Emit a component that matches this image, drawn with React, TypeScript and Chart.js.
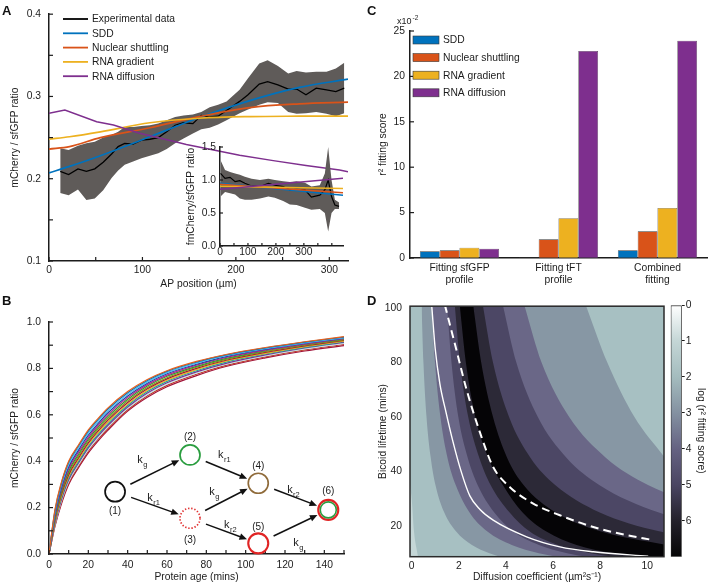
import React, { useEffect, useRef } from 'react';
import { Chart, registerables } from 'chart.js';

Chart.register(...registerables);

const FONT = "'Liberation Sans', Arial, Helvetica, sans-serif";
Chart.defaults.font.family = FONT;
Chart.defaults.font.size = 10.3;
Chart.defaults.color = '#1c1c1c';

const INK = '#1c1c1c';
const BLUE = '#0072bd';
const ORANGE = '#d95319';
const YELLOW = '#edb120';
const PURPLE = '#7e2f8e';
const BAND = '#5f5b59';

// ---------------- Panel A : AP profile ----------------
const aSeriesNames = ['Experimental data', 'SDD', 'Nuclear shuttling', 'RNA gradient', 'RNA diffusion'];
const aSeriesColors = ['#000000', BLUE, ORANGE, YELLOW, PURPLE];
const apPosition = [12, 21, 31, 40, 49, 58, 67, 74, 81, 90, 99, 108, 117, 126, 135, 144, 154, 163, 172, 181, 190, 204, 213, 225, 234, 245, 256, 265, 275, 286, 297, 307, 316];
const expMean = [0.209, 0.205, 0.212, 0.209, 0.212, 0.220, 0.230, 0.239, 0.243, 0.242, 0.247, 0.248, 0.250, 0.257, 0.265, 0.268, 0.267, 0.277, 0.275, 0.276, 0.283, 0.294, 0.302, 0.315, 0.318, 0.314, 0.309, 0.309, 0.302, 0.310, 0.308, 0.306, 0.310];
const expUpper = [0.237, 0.235, 0.240, 0.243, 0.245, 0.250, 0.253, 0.257, 0.263, 0.263, 0.264, 0.265, 0.267, 0.271, 0.275, 0.277, 0.278, 0.281, 0.287, 0.290, 0.294, 0.308, 0.322, 0.340, 0.344, 0.337, 0.328, 0.331, 0.329, 0.330, 0.330, 0.334, 0.341];
const expLower = [0.1825, 0.180, 0.187, 0.174, 0.176, 0.186, 0.201, 0.210, 0.217, 0.221, 0.225, 0.228, 0.231, 0.236, 0.243, 0.249, 0.255, 0.260, 0.262, 0.266, 0.271, 0.2795, 0.284, 0.290, 0.293, 0.292, 0.281, 0.279, 0.2795, 0.281, 0.279, 0.276, 0.2795];
const fitPosition = [0, 22, 55, 108, 161, 215, 268, 320];
const sddFit = [0.207, 0.215, 0.228, 0.251, 0.2745, 0.295, 0.311, 0.321];
const nuclearFit = [0.236, 0.239, 0.250, 0.262, 0.2755, 0.2865, 0.291, 0.293];
const rnaGradFit = [0.248, 0.251, 0.257, 0.268, 0.2735, 0.2755, 0.276, 0.2762];
const rnaDiffPosition = [0, 17, 51, 69, 97, 133, 147, 204, 240, 275, 311, 320];
const rnaDiffFit = [0.2795, 0.2835, 0.2693, 0.2653, 0.2553, 0.2455, 0.2415, 0.2285, 0.222, 0.216, 0.2105, 0.2086];
const aXTicks = [0, 50, 100, 150, 200, 250, 300];
const aYTicks = [0.1, 0.15, 0.2, 0.25, 0.3, 0.35, 0.4];

// inset of panel A
const insetPosition = [2, 18, 36, 54, 71, 89, 113, 143, 173, 196, 226, 250, 274, 304, 327, 357, 375, 387, 399, 411, 426];
const insetMean = [1.10, 1.025, 1.04, 0.975, 0.99, 0.95, 0.91, 0.90, 0.95, 0.92, 0.90, 0.85, 0.86, 0.85, 0.74, 0.77, 0.85, 1.0, 0.75, 0.62, 0.60];
const insetUpper = [1.30, 1.15, 1.12, 1.10, 1.08, 1.05, 1.02, 1.00, 1.02, 1.00, 0.98, 0.97, 0.98, 0.96, 0.90, 0.92, 1.10, 1.50, 1.00, 0.70, 0.66];
const insetLower = [0.75, 0.82, 0.80, 0.78, 0.72, 0.70, 0.70, 0.72, 0.75, 0.73, 0.68, 0.63, 0.62, 0.58, 0.55, 0.56, 0.50, 0.22, 0.50, 0.56, 0.56];
const insetFitPosition = [0, 440];
const insetSdd = [0.95, 0.77];
const insetNuclear = [0.935, 0.805];
const insetRnaGrad = [0.905, 0.87];
const insetRnaDiff = [0.86, 1.025];
const insetXTicks = [0, 50, 100, 150, 200, 250, 300, 350, 400];
const insetYTicks = [0, 0.5, 1.0, 1.5];

// ---------------- Panel B : maturation curves ----------------
const ageMins = [0, 3, 6, 10, 15, 20, 25, 30, 40, 50, 60, 75, 90, 110, 130, 150];
const ratioCurves = [
  [0, 0.19, 0.30, 0.40, 0.47, 0.535, 0.585, 0.63, 0.70, 0.752, 0.790, 0.830, 0.860, 0.890, 0.915, 0.937],
  [0, 0.185, 0.295, 0.395, 0.466, 0.530, 0.580, 0.625, 0.695, 0.748, 0.787, 0.827, 0.858, 0.888, 0.913, 0.935],
  [0, 0.178, 0.287, 0.386, 0.457, 0.521, 0.572, 0.617, 0.688, 0.742, 0.782, 0.823, 0.855, 0.885, 0.910, 0.932],
  [0, 0.170, 0.278, 0.376, 0.448, 0.512, 0.563, 0.609, 0.681, 0.736, 0.777, 0.818, 0.851, 0.882, 0.908, 0.930],
  [0, 0.163, 0.270, 0.367, 0.439, 0.503, 0.555, 0.601, 0.674, 0.730, 0.771, 0.814, 0.847, 0.879, 0.905, 0.928],
  [0, 0.157, 0.262, 0.358, 0.430, 0.495, 0.547, 0.593, 0.667, 0.724, 0.766, 0.809, 0.843, 0.876, 0.903, 0.926],
  [0, 0.151, 0.254, 0.350, 0.422, 0.487, 0.539, 0.585, 0.660, 0.718, 0.760, 0.805, 0.839, 0.872, 0.900, 0.923],
  [0, 0.145, 0.247, 0.342, 0.414, 0.479, 0.531, 0.577, 0.653, 0.712, 0.755, 0.800, 0.835, 0.869, 0.897, 0.921],
  [0, 0.140, 0.240, 0.334, 0.406, 0.471, 0.523, 0.569, 0.646, 0.706, 0.749, 0.795, 0.831, 0.865, 0.894, 0.918],
  [0, 0.135, 0.233, 0.327, 0.399, 0.464, 0.516, 0.562, 0.640, 0.700, 0.744, 0.790, 0.827, 0.862, 0.891, 0.915],
  [0, 0.130, 0.226, 0.320, 0.392, 0.457, 0.509, 0.555, 0.634, 0.694, 0.738, 0.785, 0.822, 0.858, 0.888, 0.912],
  [0, 0.126, 0.220, 0.313, 0.385, 0.450, 0.502, 0.548, 0.628, 0.688, 0.733, 0.780, 0.818, 0.854, 0.884, 0.908],
  [0, 0.122, 0.214, 0.306, 0.378, 0.443, 0.495, 0.541, 0.622, 0.682, 0.727, 0.775, 0.813, 0.850, 0.880, 0.903],
  [0, 0.118, 0.208, 0.300, 0.372, 0.436, 0.488, 0.534, 0.616, 0.676, 0.721, 0.769, 0.808, 0.845, 0.875, 0.898],
];
const curveColors = ['#e8601c', '#0072bd', '#4dbeee', '#2340a0', '#c0208f', '#2ca02c', '#8c8c1a', '#a2142f', '#edb120', '#17a2a2', '#7e2f8e', '#bfe6ea', '#c0392b', '#a0143a'];
const bXTicks = [0, 10, 20, 30, 40, 50, 60, 70, 80, 90, 100, 110, 120, 130, 140, 150];
const bYTicks = [0, 0.1, 0.2, 0.3, 0.4, 0.5, 0.6, 0.7, 0.8, 0.9, 1.0];
// reaction scheme drawn in data units of panel B
const nodeAge = [33.6, 71.7, 71.7, 106.4, 106.4, 142];
const nodeRatio = [0.2685, 0.427, 0.154, 0.305, 0.046, 0.19];
const nodeNames = ['(1)', '(2)', '(3)', '(4)', '(5)', '(6)'];
const reactionFrom = [0, 0, 1, 2, 2, 3, 4];
const reactionTo = [1, 2, 3, 3, 4, 5, 5];
const rateSubscripts = ['g', 'r1', 'r1', 'g', 'r2', 'r2', 'g'];
const rateLabelAge = [46.3, 51.4, 87.3, 82.9, 90.4, 122.5, 125.6];
const rateLabelRatio = [0.405, 0.240, 0.427, 0.2685, 0.125, 0.276, 0.046];

// ---------------- Panel C : fitting scores ----------------
const fitCategories = [['Fitting sfGFP', 'profile'], ['Fitting tFT', 'profile'], ['Combined', 'fitting']];
const cSeriesNames = ['SDD', 'Nuclear shuttling', 'RNA gradient', 'RNA diffusion'];
const cSeriesColors = [BLUE, ORANGE, YELLOW, PURPLE];
const sddScore = [0.74, 0.05, 0.85];
const nuclearScore = [0.85, 2.06, 2.94];
const rnaGradScore = [1.14, 4.38, 5.51];
const rnaDiffScore = [1.03, 22.8, 23.93];
const cYTicks = [0, 5, 10, 15, 20, 25];

// ---------------- Panel D : contour of log fitting score ----------------
const dTau = [101, 80, 60, 45, 35, 25, 18, 13, 10, 7];
const bound12D = [-0.3, 0.0, 0.1, 0.2, 0.35, 12];
const bound12Tau = [45, 30, 18, 12, 7, 4];
const bound23 = [0.42, 0.50, 0.63, 0.81, 1.01, 1.38, 1.88, 2.56, 3.30, 4.67];
const bound34 = [0.84, 0.99, 1.22, 1.52, 1.87, 2.45, 3.20, 4.25, 5.40, 7.60];
const bound45 = [1.50, 1.69, 1.98, 2.38, 2.80, 3.50, 4.30, 5.40, 6.60, 9.00];
const bound56 = [1.83, 2.05, 2.40, 2.87, 3.35, 4.15, 5.00, 6.20, 7.60, 10.5];
const bound67 = [2.04, 2.30, 2.70, 3.25, 3.87, 4.70, 5.70, 7.00, 8.60, 12.0];
const bound76 = [2.61, 2.95, 3.45, 4.05, 4.75, 6.10, 8.00, 10.8];
const bound65 = [3.02, 3.45, 4.13, 5.04, 6.09, 7.96, 10.5, 14.0];
const bound54 = [3.87, 4.44, 5.35, 6.57, 7.96, 10.46, 13.9];
const bound43 = [4.78, 5.51, 6.68, 8.24, 10.03, 13.2];
const bound32 = [7.39, 8.30, 9.45, 10.75];
const levelColors = ['#c5d7d7', '#a7c0c2', '#8797a4', '#6a6787', '#4c4765', '#2c2937', '#050406'];
const whiteSolidD = [0.85, 1.0, 1.2, 1.45, 1.75, 2.1, 2.47, 2.9, 3.46, 4.88, 6.29, 7.71, 10.04];
const whiteSolidTau = [101, 85, 72, 62, 51, 40, 31, 26, 22.1, 16, 12.3, 10.5, 8.9];
const whiteDashD = [1.41, 1.91, 2.33, 2.97, 3.46, 4.17, 5.16, 6.29, 7.71, 9.13, 10.25];
const whiteDashTau = [101, 84.2, 70, 52.5, 41.6, 34.2, 28.2, 23.9, 19.6, 16.6, 14.8];
const dXTicks = [0, 2, 4, 6, 8, 10];
const dYTicks = [20, 40, 60, 80, 100];
const cbTicks = [0, -1, -2, -3, -4, -5, -6];
const cbStops = ['#ffffff', '#c4d6d6', '#a4bcbe', '#8491a1', '#656282', '#4a4562', '#24212b', '#050505'];

// ---------------- helpers ----------------
const xy = (xs: number[], ys: number[]) => ys.map((y, i) => ({ x: xs[i], y }));
const setTicks = (vals: number[]) => (s: any) => { s.ticks = vals.map((v) => ({ value: v })); };
const fixW = (w: number) => (s: any) => { s.width = w; };
const fixH = (h: number) => (s: any) => { s.height = h; };
const isMult = (v: number, m: number) => Math.abs(v / m - Math.round(v / m)) < 1e-6;

const base = (extra: any) => ({
  responsive: false,
  animation: false,
  devicePixelRatio: 1,
  events: [],
  plugins: { legend: { display: false }, tooltip: { enabled: false } },
  ...extra,
});

function inwardTicks(axes: string[], len = 4, width = 1.2) {
  return {
    id: 'inwardTicks',
    afterDatasetsDraw(chart: any) {
      const { ctx, chartArea: a } = chart;
      ctx.save();
      ctx.strokeStyle = INK;
      ctx.lineWidth = width;
      axes.forEach((k) => {
        const s = chart.scales[k];
        s.ticks.forEach((t: any) => {
          const p = s.getPixelForValue(t.value);
          ctx.beginPath();
          if (s.isHorizontal()) {
            ctx.moveTo(p, a.bottom);
            ctx.lineTo(p, a.bottom - len);
          } else {
            ctx.moveTo(a.left, p);
            ctx.lineTo(a.left + len, p);
          }
          ctx.stroke();
        });
      });
      ctx.restore();
    },
  };
}

const line = (data: any, color: string, width: number, order: number, extra: any = {}) => ({
  data,
  borderColor: color,
  backgroundColor: color,
  borderWidth: width,
  pointRadius: 0,
  fill: false,
  order,
  ...extra,
});

const axisBorder = { color: INK, width: 1.5 };
const noGrid = { display: false, drawTicks: false };

// ---------------- chart factories ----------------
const legendA = {
  id: 'legendA',
  afterDraw(chart: any) {
    const ctx = chart.ctx;
    ctx.save();
    ctx.font = `10.3px ${FONT}`;
    ctx.textBaseline = 'middle';
    ctx.textAlign = 'left';
    aSeriesNames.forEach((n, i) => {
      const y = 19 + i * 14.3;
      ctx.strokeStyle = aSeriesColors[i];
      ctx.lineWidth = 1.8;
      ctx.beginPath();
      ctx.moveTo(63, y);
      ctx.lineTo(88, y);
      ctx.stroke();
      ctx.fillStyle = INK;
      ctx.fillText(n, 92, y + 0.5);
    });
    ctx.restore();
  },
};

const makeA = () => ({
  type: 'line',
  data: {
    datasets: [
      line(xy(apPosition, expUpper), 'transparent', 0, 20, { fill: '+1', backgroundColor: BAND }),
      line(xy(apPosition, expLower), 'transparent', 0, 21),
      line(xy(apPosition, expMean), '#000000', 1.3, 5),
      line(xy(fitPosition, sddFit), BLUE, 1.7, 4, { cubicInterpolationMode: 'monotone' }),
      line(xy(fitPosition, nuclearFit), ORANGE, 1.7, 3, { cubicInterpolationMode: 'monotone' }),
      line(xy(fitPosition, rnaGradFit), YELLOW, 1.7, 2, { cubicInterpolationMode: 'monotone' }),
      line(xy(rnaDiffPosition, rnaDiffFit), PURPLE, 1.5, 1),
    ],
  },
  options: base({
    layout: { padding: { left: 0, right: 12, top: 14, bottom: 0 } },
    scales: {
      x: {
        type: 'linear', min: 0, max: 320,
        afterBuildTicks: setTicks(aXTicks), afterFit: fixH(31),
        grid: noGrid, border: axisBorder,
        ticks: { padding: 3, maxRotation: 0, autoSkip: false, callback: (v: number) => (isMult(v, 100) ? String(v) : '') },
        title: { display: true, text: 'AP position (µm)', padding: { top: 0, bottom: 2 } },
      },
      y: {
        type: 'linear', min: 0.1, max: 0.4,
        afterBuildTicks: setTicks(aYTicks), afterFit: fixW(49),
        grid: noGrid, border: axisBorder,
        ticks: { padding: 8, autoSkip: false, callback: (v: number) => (isMult(v, 0.1) ? v.toFixed(1) : '') },
        title: { display: true, text: 'mCherry / sfGFP ratio', padding: { top: 9, bottom: 0 } },
      },
    },
  }),
  plugins: [inwardTicks(['x', 'y']), legendA],
});

const makeInset = () => ({
  type: 'line',
  data: {
    datasets: [
      line(xy(insetPosition, insetUpper), 'transparent', 0, 20, { fill: '+1', backgroundColor: BAND }),
      line(xy(insetPosition, insetLower), 'transparent', 0, 21),
      line(xy(insetPosition, insetMean), '#000000', 1.2, 5),
      line(xy(insetFitPosition, insetSdd), BLUE, 1.5, 4),
      line(xy(insetFitPosition, insetNuclear), ORANGE, 1.5, 3),
      line(xy(insetFitPosition, insetRnaGrad), YELLOW, 1.5, 2),
      line(xy(insetFitPosition, insetRnaDiff), PURPLE, 1.5, 1),
    ],
  },
  options: base({
    layout: { padding: { left: 0, right: 7, top: 12, bottom: 0 } },
    scales: {
      x: {
        type: 'linear', min: 0, max: 440,
        afterBuildTicks: setTicks(insetXTicks), afterFit: fixH(14),
        grid: noGrid, border: axisBorder,
        ticks: { padding: 0, maxRotation: 0, autoSkip: false, callback: (v: number) => (isMult(v, 100) && v < 400 ? String(v) : '') },
      },
      y: {
        type: 'linear', min: 0, max: 1.5,
        afterBuildTicks: setTicks(insetYTicks), afterFit: fixW(50),
        grid: noGrid, border: axisBorder,
        ticks: { padding: 4, autoSkip: false, callback: (v: number) => v.toFixed(1) },
        title: { display: true, text: 'fmCherry/sfGFP ratio', padding: { top: 15, bottom: 0 } },
      },
    },
  }),
  plugins: [inwardTicks(['x', 'y'], 3)],
});

const diagramB = {
  id: 'diagramB',
  afterDatasetsDraw(chart: any) {
    const { ctx } = chart;
    const x = chart.scales.x;
    const y = chart.scales.y;
    const px = (i: number) => x.getPixelForValue(nodeAge[i]);
    const py = (i: number) => y.getPixelForValue(nodeRatio[i]);
    ctx.save();
    reactionFrom.forEach((a, k) => {
      const b = reactionTo[k];
      const x1 = px(a), y1 = py(a), x2 = px(b), y2 = py(b);
      const L = Math.hypot(x2 - x1, y2 - y1);
      const ux = (x2 - x1) / L, uy = (y2 - y1) / L;
      const sx = x1 + ux * 17, sy = y1 + uy * 17;
      const ex = x2 - ux * 12, ey = y2 - uy * 12;
      ctx.strokeStyle = '#111';
      ctx.lineWidth = 1.5;
      ctx.beginPath();
      ctx.moveTo(sx, sy);
      ctx.lineTo(ex - ux * 5, ey - uy * 5);
      ctx.stroke();
      ctx.fillStyle = '#111';
      ctx.beginPath();
      ctx.moveTo(ex, ey);
      ctx.lineTo(ex - ux * 7.5 - uy * 3.3, ey - uy * 7.5 + ux * 3.3);
      ctx.lineTo(ex - ux * 7.5 + uy * 3.3, ey - uy * 7.5 - ux * 3.3);
      ctx.closePath();
      ctx.fill();
      const lx = x.getPixelForValue(rateLabelAge[k]);
      const ly = y.getPixelForValue(rateLabelRatio[k]);
      ctx.fillStyle = INK;
      ctx.font = `11px ${FONT}`;
      ctx.textAlign = 'center';
      ctx.textBaseline = 'middle';
      ctx.fillText('k', lx, ly);
      ctx.font = `7.5px ${FONT}`;
      ctx.textAlign = 'left';
      ctx.fillText(rateSubscripts[k], lx + 3.2, ly + 5);
    });
    const stroke = ['#111111', '#2a9d3f', '#e03030', '#8f6b3a', '#e02424', '#e02424'];
    const labelDy = [20, -18, 22, -17, -16, -19];
    nodeAge.forEach((_, i) => {
      const cx = px(i), cy = py(i);
      ctx.beginPath();
      ctx.setLineDash(i === 2 ? [1.4, 1.8] : []);
      ctx.strokeStyle = stroke[i];
      ctx.lineWidth = i === 4 || i === 5 ? 2.1 : 1.7;
      ctx.arc(cx, cy, 10, 0, Math.PI * 2);
      ctx.stroke();
      ctx.setLineDash([]);
      if (i === 5) {
        ctx.beginPath();
        ctx.strokeStyle = '#2a9d3f';
        ctx.lineWidth = 1.6;
        ctx.arc(cx, cy, 8, 0, Math.PI * 2);
        ctx.stroke();
      }
      ctx.fillStyle = INK;
      ctx.font = `10px ${FONT}`;
      ctx.textAlign = 'center';
      ctx.textBaseline = 'middle';
      ctx.fillText(nodeNames[i], cx, cy + labelDy[i]);
    });
    ctx.restore();
  },
};

const makeB = () => ({
  type: 'line',
  data: {
    datasets: ratioCurves.map((c, i) =>
      line(xy(ageMins, c), curveColors[i], 1.2, i, { cubicInterpolationMode: 'monotone' })
    ),
  },
  options: base({
    layout: { padding: { left: 0, right: 16, top: 30, bottom: 0 } },
    scales: {
      x: {
        type: 'linear', min: 0, max: 150,
        afterBuildTicks: setTicks(bXTicks), afterFit: fixH(31),
        grid: noGrid, border: axisBorder,
        ticks: { padding: 5, maxRotation: 0, autoSkip: false, callback: (v: number) => (isMult(v, 20) ? String(v) : '') },
        title: { display: true, text: 'Protein age (mins)', padding: { top: 0, bottom: 2 } },
      },
      y: {
        type: 'linear', min: 0, max: 1,
        afterBuildTicks: setTicks(bYTicks), afterFit: fixW(49),
        grid: noGrid, border: axisBorder,
        ticks: { padding: 8, autoSkip: false, callback: (v: number) => (isMult(v, 0.2) ? v.toFixed(1) : '') },
        title: { display: true, text: 'mCherry / sfGFP ratio', padding: { top: 9, bottom: 0 } },
      },
    },
  }),
  plugins: [inwardTicks(['x', 'y']), diagramB],
});

const decorC = {
  id: 'decorC',
  afterDraw(chart: any) {
    const ctx = chart.ctx;
    ctx.save();
    ctx.fillStyle = INK;
    ctx.textAlign = 'left';
    ctx.textBaseline = 'alphabetic';
    ctx.font = `9px ${FONT}`;
    ctx.fillText('x10', 37, 24);
    ctx.font = `6.5px ${FONT}`;
    ctx.fillText('-2', 52.5, 19.5);
    cSeriesNames.forEach((n, i) => {
      const yy = 40 + i * 17.6;
      ctx.fillStyle = cSeriesColors[i];
      ctx.fillRect(53, yy - 4, 26, 8);
      ctx.strokeStyle = '#3a3a3a';
      ctx.lineWidth = 0.6;
      ctx.strokeRect(53, yy - 4, 26, 8);
      ctx.fillStyle = INK;
      ctx.font = `10.3px ${FONT}`;
      ctx.textBaseline = 'middle';
      ctx.fillText(n, 83, yy + 0.5);
    });
    ctx.restore();
  },
};

const makeC = () => ({
  type: 'bar',
  data: {
    labels: fitCategories,
    datasets: [sddScore, nuclearScore, rnaGradScore, rnaDiffScore].map((d, i) => ({
      label: cSeriesNames[i],
      data: d,
      backgroundColor: cSeriesColors[i],
      borderColor: '#3a3a3a',
      borderWidth: 0.6,
      borderSkipped: false,
      categoryPercentage: 0.8,
      barPercentage: 1,
    })),
  },
  options: base({
    layout: { padding: { left: 0, right: 2, top: 31, bottom: 0 } },
    scales: {
      x: {
        afterFit: fixH(34),
        grid: noGrid, border: axisBorder,
        ticks: { padding: 4, maxRotation: 0, autoSkip: false },
      },
      y: {
        type: 'linear', min: 0, max: 25,
        afterBuildTicks: setTicks(cYTicks), afterFit: fixW(50),
        grid: noGrid, border: axisBorder,
        ticks: { padding: 5, autoSkip: false },
        title: { display: true, text: 'r² fitting score', padding: { top: 17, bottom: 0 } },
      },
    },
  }),
  plugins: [inwardTicks(['y']), decorC],
});

const clipArea = {
  id: 'clipArea',
  beforeDatasetsDraw(chart: any) {
    const { ctx, chartArea: a } = chart;
    ctx.save();
    ctx.beginPath();
    ctx.rect(a.left, a.top, a.right - a.left, a.bottom - a.top);
    ctx.clip();
  },
  afterDatasetsDraw(chart: any) {
    chart.ctx.restore();
  },
};
const frameD = {
  id: 'frameD',
  afterDraw(chart: any) {
    const { ctx, chartArea: a } = chart;
    ctx.save();
    ctx.strokeStyle = '#2a2a2a';
    ctx.lineWidth = 1.5;
    ctx.strokeRect(a.left, a.top, a.right - a.left, a.bottom - a.top);
    ctx.restore();
  },
};

const boundary = (ds: number[], extend: boolean) => {
  const pts = ds.map((d, i) => ({ x: d, y: dTau[i] }));
  if (extend) pts.push({ x: 12, y: 4 });
  return pts;
};

const makeD = () => {
  const layers: any[] = [
    { data: [{ x: -1, y: 5 }, { x: 12, y: 5 }], color: levelColors[0] },
    { data: xy(bound12D, bound12Tau), color: levelColors[1] },
    { data: boundary(bound23, true), color: levelColors[2] },
    { data: boundary(bound34, true), color: levelColors[3] },
    { data: boundary(bound45, false), color: levelColors[4] },
    { data: boundary(bound56, false), color: levelColors[5] },
    { data: boundary(bound67, false), color: levelColors[6] },
    { data: boundary(bound76, false), color: levelColors[5] },
    { data: boundary(bound65, false), color: levelColors[4] },
    { data: boundary(bound54, false), color: levelColors[3] },
    { data: boundary(bound43, false), color: levelColors[2] },
    { data: boundary(bound32, false), color: levelColors[1] },
  ];
  const datasets: any[] = layers.map((l, i) =>
    line(l.data, 'transparent', 0, 100 - i, { fill: 'end', backgroundColor: l.color, cubicInterpolationMode: 'monotone' })
  );
  datasets.push(line(xy(whiteSolidD, whiteSolidTau), '#ffffff', 1.4, 2, { cubicInterpolationMode: 'monotone' }));
  datasets.push(line(xy(whiteDashD, whiteDashTau), '#ffffff', 2, 1, { cubicInterpolationMode: 'monotone', borderDash: [8, 5] }));
  return {
    type: 'line',
    data: { datasets },
    options: base({
      layout: { padding: { left: 0, right: 6, top: 13, bottom: 0 } },
      scales: {
        x: {
          type: 'linear', min: -0.07, max: 10.71,
          afterBuildTicks: setTicks(dXTicks), afterFit: fixH(28.3),
          grid: noGrid, border: { display: false },
          ticks: { padding: 3, maxRotation: 0, autoSkip: false },
          title: { display: true, text: 'Diffusion coefficient (µm²s⁻¹)', padding: { top: 0, bottom: 2 } },
        },
        y: {
          type: 'linear', min: 8.7, max: 100.6,
          afterBuildTicks: setTicks(dYTicks), afterFit: fixW(50),
          grid: noGrid, border: { display: false },
          ticks: { padding: 8, autoSkip: false },
          title: { display: true, text: 'Bicoid lifetime (mins)', padding: { top: 17, bottom: 0 } },
        },
      },
    }),
    plugins: [clipArea, frameD],
  };
};

const makeColorbar = () => ({
  type: 'bar',
  data: {
    labels: [''],
    datasets: [
      {
        data: [[-7, 0]],
        backgroundColor: (c: any) => {
          const chart = c.chart;
          const a = chart.chartArea;
          if (!a) return '#888888';
          const g = chart.ctx.createLinearGradient(0, a.top, 0, a.bottom);
          cbStops.forEach((col, i) => g.addColorStop(i / (cbStops.length - 1), col));
          return g;
        },
        borderColor: '#2a2a2a',
        borderWidth: 1,
        borderSkipped: false,
        barPercentage: 1,
        categoryPercentage: 1,
      },
    ],
  },
  options: base({
    layout: { padding: { left: 8.7, right: 0, top: 13, bottom: 28.3 } },
    scales: {
      x: { display: false },
      y: {
        position: 'right', type: 'linear', min: -7, max: 0,
        afterBuildTicks: setTicks(cbTicks), afterFit: fixW(27.3),
        grid: { display: true, drawOnChartArea: false, drawTicks: true, tickLength: 3, color: INK, lineWidth: 1 },
        border: { display: false },
        ticks: { padding: 1, autoSkip: false, callback: (v: number) => String(Math.abs(v)) },
        title: { display: true, text: 'log (r² fitting socre)', padding: { top: 2, bottom: 0 } },
      },
    },
  }),
});

function Panel({ left, top, width, height, make }: { left: number; top: number; width: number; height: number; make: () => any }) {
  const ref = useRef<HTMLCanvasElement | null>(null);
  useEffect(() => {
    const chart = new Chart(ref.current as HTMLCanvasElement, make());
    return () => chart.destroy();
  }, []);
  return (
    <canvas
      ref={ref}
      width={width}
      height={height}
      style={{ position: 'absolute', left, top, width, height, display: 'block' }}
    />
  );
}

const letterStyle = (left: number, top: number): React.CSSProperties => ({
  position: 'absolute',
  left,
  top,
  font: `bold 13px ${FONT}`,
  lineHeight: '13px',
  color: '#111',
});

export default function App() {
  return (
    <div style={{ position: 'absolute', left: 0, top: 0, width: 709, height: 585, background: '#ffffff', overflow: 'hidden' }}>
      <Panel left={0} top={0} width={360} height={292} make={makeA} />
      <Panel left={170} top={135} width={180} height={125} make={makeInset} />
      <Panel left={0} top={292} width={360} height={293} make={makeB} />
      <Panel left={360} top={0} width={349} height={292} make={makeC} />
      <Panel left={360} top={292} width={310} height={293} make={makeD} />
      <Panel left={662} top={292} width={47} height={293} make={makeColorbar} />
      <div style={letterStyle(2, 4)}>A</div>
      <div style={letterStyle(2, 294)}>B</div>
      <div style={letterStyle(367, 4)}>C</div>
      <div style={letterStyle(367, 294)}>D</div>
    </div>
  );
}
